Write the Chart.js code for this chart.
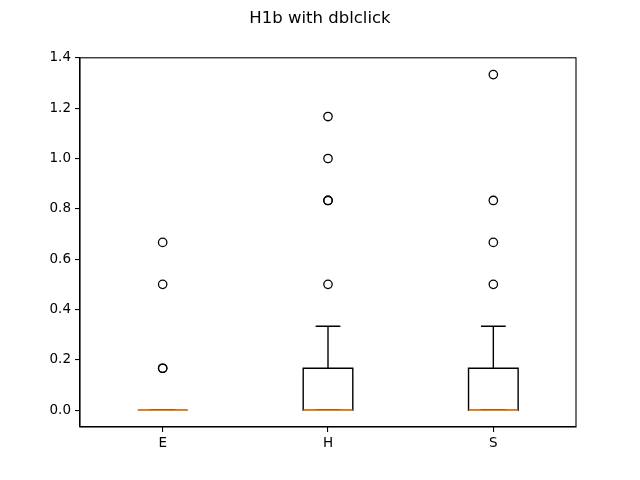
<!DOCTYPE html>
<html>
<head>
<meta charset="utf-8">
<script src="https://cdn.jsdelivr.net/npm/chart.js@4"></script>
<style>
html,body{margin:0;padding:0;background:#fff;}
canvas{display:block;}
</style>
</head>
<body>
<canvas id="c" width="640" height="480"></canvas>
<script>
const categories = ['E', 'H', 'S'];
const q1 = [0, 0, 0];
const q3 = [0, 0.1667, 0.1667];
const medians = [0, 0, 0];
const whiskerLow = [0, 0, 0];
const whiskerHigh = [0, 0.3333, 0.3333];
const outliersE = [0.1667, 0.1667, 0.5, 0.6667];
const outliersH = [0.5, 0.8333, 0.8333, 1.0, 1.1667];
const outliersS = [0.5, 0.6667, 0.8333, 1.3333];
const yTicks = [0, 0.2, 0.4, 0.6, 0.8, 1.0, 1.2, 1.4];
const titleText = 'H1b with dblclick';

const outlierSets = [outliersE, outliersH, outliersS];
const points = [];
outlierSets.forEach((arr, i) => arr.forEach(v => points.push({x: i + 1, y: v})));

Chart.defaults.font.family = "'DejaVu Sans', sans-serif";
Chart.defaults.color = '#000';

const boxPlugin = {
  id: 'boxes',
  beforeDatasetsDraw(chart) {
    const ctx = chart.ctx, xs = chart.scales.x, ys = chart.scales.y;
    const boxW = 0.3, capW = 0.15;
    ctx.save();
    ctx.lineWidth = 1.4;
    for (let i = 0; i < categories.length; i++) {
      const pos = i + 1;
      const xl = xs.getPixelForValue(pos - boxW / 2), xr = xs.getPixelForValue(pos + boxW / 2);
      const cl = xs.getPixelForValue(pos - capW / 2), cr = xs.getPixelForValue(pos + capW / 2);
      const xc = xs.getPixelForValue(pos);
      const y1 = ys.getPixelForValue(q1[i]), y3 = ys.getPixelForValue(q3[i]);
      const wl = ys.getPixelForValue(whiskerLow[i]), wh = ys.getPixelForValue(whiskerHigh[i]);
      const ym = ys.getPixelForValue(medians[i]);
      ctx.strokeStyle = '#000';
      ctx.beginPath();
      ctx.moveTo(xl, y1); ctx.lineTo(xr, y1); ctx.lineTo(xr, y3); ctx.lineTo(xl, y3); ctx.closePath();
      ctx.stroke();
      ctx.beginPath();
      ctx.moveTo(xc, y1); ctx.lineTo(xc, wl);
      ctx.moveTo(xc, y3); ctx.lineTo(xc, wh);
      ctx.stroke();
      ctx.beginPath();
      ctx.moveTo(cl, wl); ctx.lineTo(cr, wl);
      ctx.moveTo(cl, wh); ctx.lineTo(cr, wh);
      ctx.stroke();
      ctx.strokeStyle = '#ff7f0e';
      ctx.beginPath();
      ctx.moveTo(xl, ym); ctx.lineTo(xr, ym);
      ctx.stroke();
    }
    ctx.restore();
  },
  afterDraw(chart) {
    const ctx = chart.ctx, a = chart.chartArea;
    ctx.save();
    ctx.strokeStyle = '#000';
    ctx.lineWidth = 1.1;
    ctx.strokeRect(a.left, a.top, a.right - a.left, a.bottom - a.top);
    ctx.restore();
  }
};

new Chart(document.getElementById('c'), {
  type: 'scatter',
  data: {
    datasets: [{
      data: points,
      pointStyle: 'circle',
      pointRadius: 4.2,
      pointHoverRadius: 4.2,
      borderColor: '#000',
      backgroundColor: 'rgba(0,0,0,0)',
      borderWidth: 1.3
    }]
  },
  options: {
    responsive: false,
    animation: false,
    devicePixelRatio: 1,
    layout: {padding: 0},
    plugins: {
      legend: {display: false},
      tooltip: {enabled: false},
      title: {
        display: true,
        text: titleText,
        color: '#000',
        font: {size: 16.5, weight: 'normal'},
        padding: {top: 9, bottom: 29}
      }
    },
    scales: {
      x: {
        type: 'linear',
        min: 0.5,
        max: 3.5,
        afterBuildTicks: s => { s.ticks = categories.map((c, i) => ({value: i + 1})); },
        afterFit: s => { s.height = 53; },
        ticks: {
          callback: v => categories[Math.round(v) - 1],
          font: {size: 13.5},
          padding: 3,
          maxRotation: 0
        },
        grid: {drawOnChartArea: false, drawTicks: true, tickLength: 5, color: '#000', lineWidth: 1.1},
        border: {display: true, color: '#000', width: 1.1}
      },
      y: {
        type: 'linear',
        min: -0.0667,
        max: 1.4,
        afterBuildTicks: s => { s.ticks = yTicks.map(v => ({value: v})); },
        afterFit: s => { s.width = 80; },
        ticks: {
          callback: v => v.toFixed(1),
          font: {size: 13.5},
          padding: 4
        },
        grid: {drawOnChartArea: false, drawTicks: true, tickLength: 5, color: '#000', lineWidth: 1.1},
        border: {display: true, color: '#000', width: 1.1}
      },
      yRight: {
        type: 'linear',
        position: 'right',
        min: -0.0667,
        max: 1.4,
        afterFit: s => { s.width = 64; },
        ticks: {display: false},
        grid: {display: false},
        border: {display: false}
      }
    }
  },
  plugins: [boxPlugin]
});
</script>
</body>
</html>
